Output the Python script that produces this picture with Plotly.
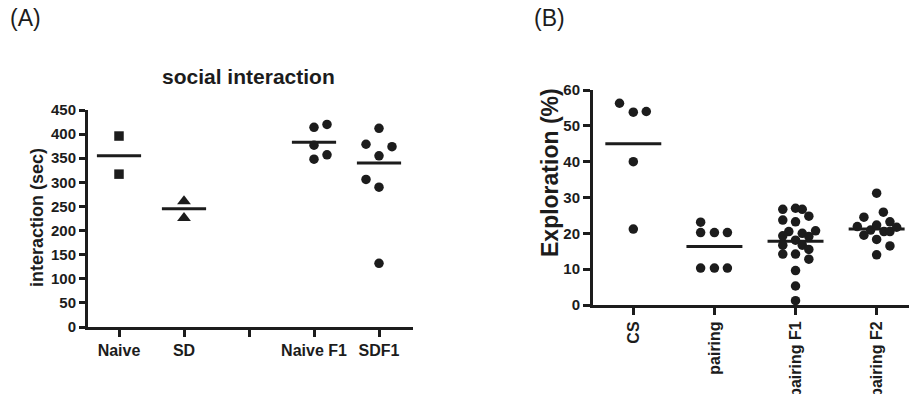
import plotly.graph_objects as go

# ---------------- Panel A data ----------------
cats_A = ["Naive", "SD", "", "Naive F1", "SDF1"]
naive = [396, 317]
sd = [261, 226]
naive_f1 = [414, 420, 377, 348, 357]
sdf1 = [412, 379, 374, 355, 306, 290, 132]
means_A = [355, 245, 383, 340]
jit_naive = [0, 0]
jit_sd = [0, 0]
jit_naive_f1 = [0, 0.2, 0, 0, 0.2]
jit_sdf1 = [0, -0.2, 0.2, 0, -0.2, 0, 0]

# ---------------- Panel B data ----------------
cats_B = ["CS", "pairing", "pairing F1", "pairing F2"]
cs = [56.3, 53.8, 54.0, 40.0, 21.2]
pairing = [23.1, 20.2, 20.2, 20.2, 10.3, 10.3, 10.3]
pairing_f1 = [26.7, 27.0, 26.7, 23.7, 23.2, 24.8, 20.5, 20.0, 20.7, 19.3, 18.1,
              19.1, 16.7, 16.7, 14.2, 14.2, 15.5, 12.8, 9.6, 5.3, 1.2]
pairing_f2 = [31.2, 24.5, 25.9, 23.2, 21.9, 20.9, 22.3, 20.5, 20.5, 21.7, 19.5,
              18.3, 16.5, 14.0]
means_B = [45.0, 16.3, 17.8, 21.2]
jit_cs = [-0.17, 0, 0.16, 0, 0]
jit_pairing = [-0.17, -0.17, 0, 0.16, -0.17, 0, 0.16]
jit_f1 = [-0.157, 0, 0.083, -0.157, 0, 0.164, -0.083, 0.083, 0.247, -0.157, 0,
          0.164, -0.157, 0.083, -0.157, 0, 0.164, 0.164, 0, 0, 0]
jit_f2 = [0, -0.157, 0.083, 0.164, -0.238, -0.074, 0, 0.09, 0.164, 0.247,
          -0.157, 0, 0.164, 0]

FONT = "Liberation Sans, Arial, sans-serif"
INK = "#1c1c1c"
W, H = 909, 394

fig = go.Figure()


def add_group(pos, vals, jit, symbol, size, xa, ya):
    fig.add_trace(go.Scatter(
        x=[pos + j for j in jit], y=vals, mode="markers",
        marker=dict(symbol=symbol, size=size, color=INK, line=dict(width=0)),
        xaxis=xa, yaxis=ya, cliponaxis=False, showlegend=False, hoverinfo="y"))


def add_mean(pos, m, xa, ya, hw=0.34):
    fig.add_trace(go.Scatter(
        x=[pos - hw, pos + hw], y=[m, m], mode="lines",
        line=dict(color=INK, width=3), xaxis=xa, yaxis=ya,
        cliponaxis=False, showlegend=False, hoverinfo="skip"))


# Panel A
groups_A = [(1, naive, jit_naive, "square", 9.5), (2, sd, jit_sd, "triangle-up", 12),
            (4, naive_f1, jit_naive_f1, "circle", 9.5),
            (5, sdf1, jit_sdf1, "circle", 9.5)]
for (pos, vals, jit, sym, sz), m in zip(groups_A, means_A):
    add_mean(pos, m, "x", "y")
    add_group(pos, vals, jit, sym, sz, "x", "y")

# Panel B
groups_B = [(1, cs, jit_cs), (2, pairing, jit_pairing),
            (3, pairing_f1, jit_f1), (4, pairing_f2, jit_f2)]
for (pos, vals, jit), m in zip(groups_B, means_B):
    add_mean(pos, m, "x2", "y2", hw=0.345)
    add_group(pos, vals, jit, "circle", 9.5, "x2", "y2")

axis_common = dict(showline=True, linecolor=INK, linewidth=3, ticks="outside",
                   tickcolor=INK, tickwidth=3, showgrid=False, zeroline=False,
                   automargin=False, fixedrange=True)

fig.update_layout(
    width=W, height=H, margin=dict(l=0, r=0, t=0, b=0),
    paper_bgcolor="white", plot_bgcolor="white",
    font=dict(family=FONT, color=INK),
    xaxis=dict(domain=[88 / W, 413 / W], range=[0.523, 5.523],
               tickvals=[1, 2, 3, 4, 5], ticktext=cats_A, ticklen=7,
               tickfont=dict(size=16, family=FONT, color=INK, weight="bold"),
               anchor="y", **axis_common),
    yaxis=dict(domain=[1 - 327 / H, 1 - 110 / H], range=[0, 450], dtick=50,
               ticklen=6, tickfont=dict(size=15, family=FONT, color=INK, weight="bold"),
               anchor="x", **axis_common),
    xaxis2=dict(domain=[593 / W, 1.0], range=[0.503, 4.399],
                tickvals=[1, 2, 3, 4], ticktext=cats_B, tickangle=-90, ticklen=7,
                tickfont=dict(size=16, family=FONT, color=INK, weight="bold"),
                anchor="y2", **axis_common),
    yaxis2=dict(domain=[1 - 305 / H, 1 - 90 / H], range=[0, 60], dtick=10,
                ticklen=7, tickfont=dict(size=15, family=FONT, color=INK, weight="bold"),
                anchor="x2", **axis_common),
)

annotations = [
    dict(text="(A)", x=8 / W, y=1 - 18 / H, xanchor="left", yanchor="middle",
         font=dict(size=23, family=FONT, color=INK)),
    dict(text="(B)", x=532 / W, y=1 - 18 / H, xanchor="left", yanchor="middle",
         font=dict(size=23, family=FONT, color=INK)),
    dict(text="social interaction", x=248 / W, y=1 - 77 / H, xanchor="center",
         yanchor="middle", font=dict(size=21, family=FONT, color=INK, weight="bold")),
    dict(text="interaction (sec)", x=37 / W, y=1 - 218 / H, xanchor="center",
         yanchor="middle", textangle=-90,
         font=dict(size=18, family=FONT, color=INK, weight="bold")),
    dict(text="Exploration (%)", x=550 / W, y=1 - 173 / H, xanchor="center",
         yanchor="middle", textangle=-90,
         font=dict(size=23, family=FONT, color=INK, weight="bold")),
]
for a in annotations:
    a.update(xref="paper", yref="paper", showarrow=False)
fig.update_layout(annotations=annotations)

fig.write_html(
    "out.html",
    config={"displayModeBar": False},
    post_script="document.body.style.margin='0';document.body.style.overflow='hidden';",
)
